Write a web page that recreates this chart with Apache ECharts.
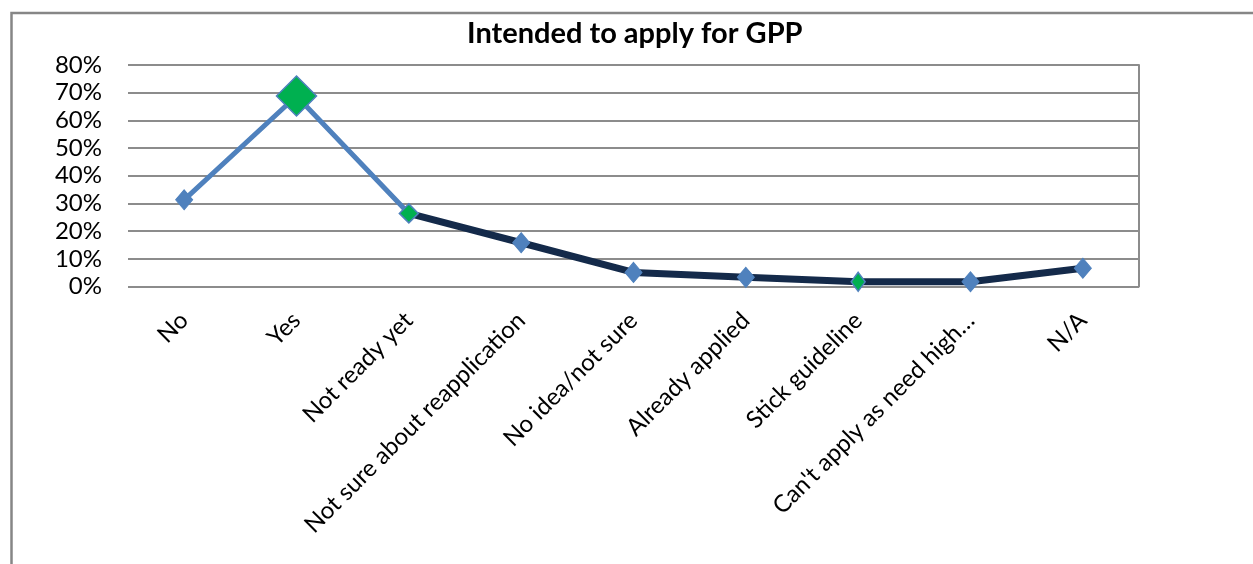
<!DOCTYPE html>
<html>
<head>
<meta charset="utf-8">
<script src="https://cdn.jsdelivr.net/npm/echarts@6/dist/echarts.min.js"></script>
<style>
html,body{margin:0;padding:0;background:#fff;}
#gppshow{width:1253px;height:564px;}
</style>
</head>
<body>
<div id="gppshow"></div>
<script>
// categories and shares
var categories = ['No','Yes','Not ready yet','Not sure about reapplication','No idea/not sure','Already applied','Stick guideline',"Can't apply as need high\u2026",'N/A']
var shares = [31.3,68.8,26.4,15.8,5.1,3.3,1.7,1.7,6.6]
var yTicks = [0,10,20,30,40,50,60,70,80]

var chart = echarts.init(document.getElementById('gppshow'))
var font = 'Lato, "Open Sans", sans-serif'

// first two segments are the light blue ones, the rest dark navy
var firstPart = shares.map(function(v,i){ return i <= 2 ? v : '-' })
var secondPart = shares.map(function(v,i){ return i >= 2 ? v : '-' })

var markerData = shares.map(function(v,i){
    var item = {value:v}
    if(i == 1){
        item.symbolSize = 40
        item.itemStyle = {color:'#00B050',borderColor:'#4F81BD',borderWidth:1.5}
    }else if(i == 2){
        item.symbolSize = 19
        item.itemStyle = {color:'#00B050',borderColor:'#4F81BD',borderWidth:1.5}
    }else if(i == 6){
        item.symbolSize = [14,19]
        item.itemStyle = {color:'#00B050',borderColor:'#4F81BD',borderWidth:1.5}
    }
    return item
})

var option = {
    backgroundColor:'#fff',
    animation:false,
    title:{
        text:'Intended to apply for GPP',
        left:462,
        top:14,
        textStyle:{
            fontFamily:font,
            fontWeight:'bold',
            fontSize:29,
            color:'#000'
        }
    },
    grid:{
        left:128,
        right:114,
        top:65,
        bottom:277.5,
        containLabel:false
    },
    xAxis:{
        type:'category',
        data:categories,
        boundaryGap:true,
        axisLine:{show:false},
        axisTick:{show:false},
        axisLabel:{
            rotate:45,
            margin:30,
            interval:0,
            fontFamily:font,
            fontSize:24,
            color:'#000'
        }
    },
    yAxis:[
        {
            type:'value',
            min:yTicks[0],
            max:yTicks[yTicks.length-1],
            interval:10,
            axisLine:{show:false},
            axisTick:{show:false},
            axisLabel:{
                margin:26,
                fontFamily:font,
                fontSize:24,
                color:'#000',
                formatter:'{value}%'
            },
            splitLine:{
                lineStyle:{color:'#8c8c8c',width:2}
            }
        },
        {
            // right border of the plot
            type:'value',
            position:'right',
            min:yTicks[0],
            max:yTicks[yTicks.length-1],
            interval:10,
            axisLine:{show:true,lineStyle:{color:'#8c8c8c',width:2}},
            axisTick:{show:false},
            axisLabel:{show:false},
            splitLine:{show:false}
        }
    ],
    series:[
        {
            type:'line',
            data:firstPart,
            showSymbol:false,
            symbol:'none',
            lineStyle:{color:'#4F81BD',width:5},
            z:2
        },
        {
            type:'line',
            data:secondPart,
            showSymbol:false,
            symbol:'none',
            lineStyle:{color:'#142A4A',width:7},
            z:2
        },
        {
            type:'line',
            data:markerData,
            symbol:'diamond',
            symbolSize:[17,20],
            showAllSymbol:true,
            lineStyle:{width:0,opacity:0},
            itemStyle:{color:'#4F81BD',borderColor:'#4F81BD',borderWidth:1},
            z:5
        }
    ],
    graphic:{
        elements:[
            {
                type:'rect',
                left:9,
                top:10.5,
                shape:{x:0,y:0,width:1400,height:700},
                style:{fill:'none',stroke:'#868686',lineWidth:2.5},
                silent:true
            }
        ]
    }
}
chart.setOption(option)
</script>
</body>
</html>
